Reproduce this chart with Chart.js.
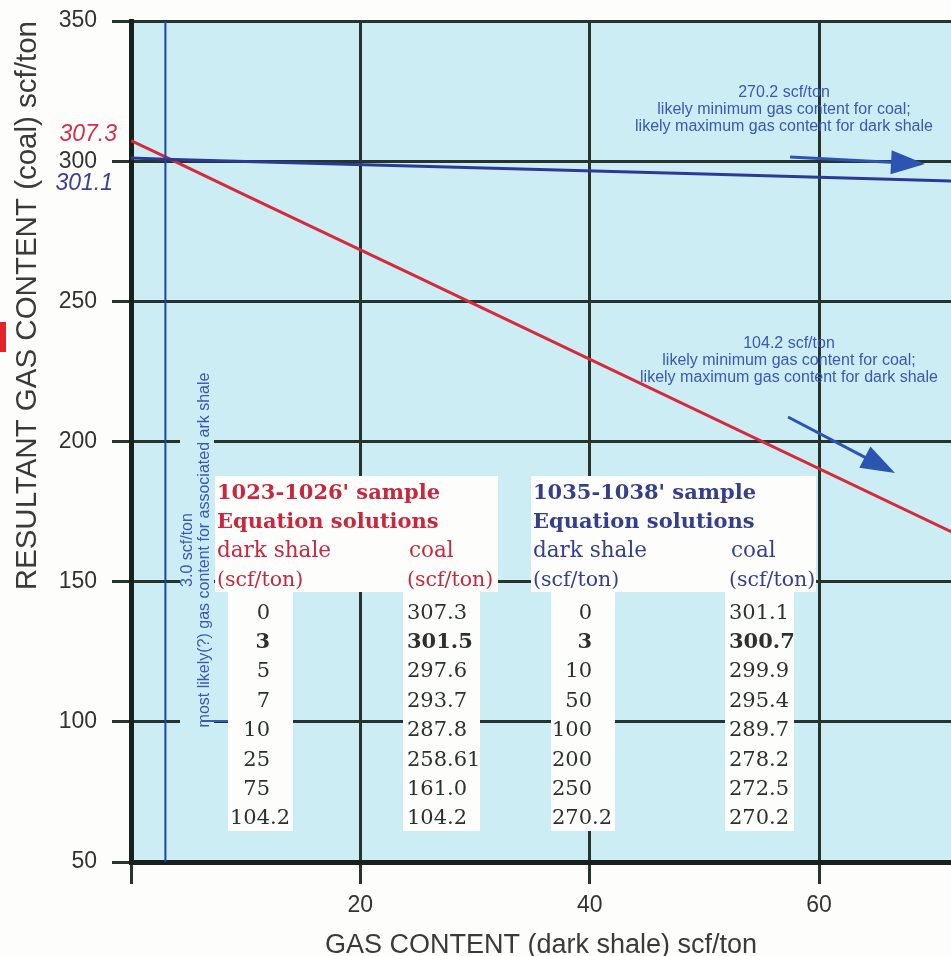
<!DOCTYPE html>
<html>
<head>
<meta charset="utf-8">
<script src="https://cdn.jsdelivr.net/npm/chart.js@4.4.1/dist/chart.umd.min.js"></script>
<style>
  html, body { margin: 0; padding: 0; background: #fdfdfc; }
  #wrap { width: 951px; height: 956px; }
</style>
</head>
<body>
<div id="wrap"><canvas id="chart" width="951" height="956"></canvas></div>
<script>
// 1023-1026' sample, equation solutions (scf/ton)
const shaleA = [0, 3, 5, 7, 10, 25, 75, 104.2];
const coalA = [307.3, 301.5, 297.6, 293.7, 287.8, 258.61, 161.0, 104.2];
// 1035-1038' sample, equation solutions (scf/ton)
const shaleB = [0, 3, 10, 50, 100, 200, 250, 270.2];
const coalB = [301.1, 300.7, 299.9, 295.4, 289.7, 278.2, 272.5, 270.2];
// most likely gas content of the associated dark shale
const likelyShale = 3.0;

const xTicks = [0, 20, 40, 60];
const yTicks = [50, 100, 150, 200, 250, 300, 350];
const xMax = 71.5;

const noteTop = ['270.2 scf/ton', 'likely minimum gas content for coal;', 'likely maximum gas content for dark shale'];
const noteMid = ['104.2 scf/ton', 'likely minimum gas content for coal;', 'likely maximum gas content for dark shale'];
const noteSide = ['3.0 scf/ton', 'most likely(?) gas content for associated ark shale'];

const gridColor = '#27332d';
const axisColor = '#18201c';
const noteBlue = '#3a58b4';
const sans = 'Liberation Sans';
const serif = 'DejaVu Serif';

function toPts(xs, ys) {
  return xs.map((x, i) => ({ x: x, y: ys[i] }));
}
function fmtCoal(v) {
  return Number.isInteger(v) ? v.toFixed(1) : String(v);
}

// fond: page + cyan plot area
const backdrop = {
  id: 'backdrop',
  beforeDraw(chart) {
    const { ctx, chartArea: a } = chart;
    ctx.save();
    ctx.fillStyle = '#fdfdfc';
    ctx.fillRect(0, 0, chart.width, chart.height);
    ctx.fillStyle = '#cdedf5';
    ctx.fillRect(a.left, a.top, a.right - a.left, a.bottom - a.top);
    ctx.restore();
  }
};

function arrow(ctx, x0, y0, x1, y1, color) {
  const ang = Math.atan2(y1 - y0, x1 - x0), L = 34, W = 12;
  const bx = x1 - L * Math.cos(ang), by = y1 - L * Math.sin(ang);
  ctx.strokeStyle = color;
  ctx.fillStyle = color;
  ctx.lineWidth = 3;
  ctx.beginPath(); ctx.moveTo(x0, y0); ctx.lineTo(bx + 4 * Math.cos(ang), by + 4 * Math.sin(ang)); ctx.stroke();
  ctx.beginPath();
  ctx.moveTo(x1, y1);
  ctx.lineTo(bx + W * Math.sin(ang), by - W * Math.cos(ang));
  ctx.lineTo(bx - W * Math.sin(ang), by + W * Math.cos(ang));
  ctx.closePath();
  ctx.fill();
}

function drawTable(ctx, t) {
  const rowTop = 611, rowStep = 29.4;
  ctx.fillStyle = '#fdfdfc';
  ctx.fillRect(t.box[0], 476, t.box[1] - t.box[0], 116);
  ctx.fillRect(t.colShale[0], 592, t.colShale[1] - t.colShale[0], 239);
  ctx.fillRect(t.colCoal[0], 592, t.colCoal[1] - t.colCoal[0], 239);

  ctx.textBaseline = 'alphabetic';
  ctx.textAlign = 'left';
  ctx.fillStyle = t.color;
  ctx.font = 'bold 21px "' + serif + '"';
  ctx.fillText(t.title, t.box[0] + 2, 491 + 7.5);
  ctx.fillText('Equation solutions', t.box[0] + 2, 520 + 7.5);
  ctx.font = '21.5px "' + serif + '"';
  ctx.fillText('dark shale', t.box[0] + 2, 549 + 7.5);
  ctx.fillText('coal', t.xCoal + 2, 549 + 7.5);
  ctx.font = '20.5px "' + serif + '"';
  ctx.fillText('(scf/ton)', t.box[0] + 2, 578 + 7.5);
  ctx.fillText('(scf/ton)', t.xCoal, 578 + 7.5);

  ctx.fillStyle = '#2a322d';
  t.shale.forEach((v, i) => {
    const y = rowTop + i * rowStep + 7.5;
    ctx.font = (i === 1 ? 'bold ' : '') + '21px "' + serif + '"';
    const parts = String(v).split('.');
    ctx.textAlign = 'right';
    ctx.fillText(parts[0], t.xShale, y);
    if (parts[1]) {
      ctx.textAlign = 'left';
      ctx.fillText('.' + parts[1], t.xShale, y);
    }
    ctx.textAlign = 'left';
    ctx.fillText(fmtCoal(t.coal[i]), t.xCoal, y);
  });
}

const overlay = {
  id: 'overlay',
  afterDatasetsDraw(chart) {
    const { ctx } = chart;
    const ys = chart.scales.y;
    ctx.save();

    // valeurs à l'origine, à gauche de l'axe
    ctx.font = 'italic 23px "' + sans + '"';
    ctx.textAlign = 'right';
    ctx.textBaseline = 'middle';
    ctx.fillStyle = '#d2304a';
    ctx.fillText(String(coalA[0]), 117, ys.getPixelForValue(coalA[0]) - 6);
    ctx.fillStyle = '#3d3f96';
    ctx.fillText(String(coalB[0]), 113, ys.getPixelForValue(coalB[0]) + 26);

    // petit repère rouge au bord
    ctx.fillStyle = '#e4232c';
    ctx.fillRect(0, 322, 6, 30);

    // note verticale pour 3.0 scf/ton
    ctx.fillStyle = '#cdedf5';
    ctx.fillRect(180, 365, 34, 368);
    ctx.fillStyle = noteBlue;
    ctx.font = '16px "' + sans + '"';
    ctx.textAlign = 'center';
    ctx.textBaseline = 'middle';
    [[188, noteSide[0]], [205, noteSide[1]]].forEach(([x, txt]) => {
      ctx.save();
      ctx.translate(x, 550);
      ctx.rotate(-Math.PI / 2);
      ctx.fillText(txt, 0, 0);
      ctx.restore();
    });
    ctx.strokeStyle = noteBlue;
    ctx.lineWidth = 2;
    ctx.beginPath(); ctx.moveTo(202, 721); ctx.lineTo(229, 721); ctx.stroke();

    // notes en haut à droite
    ctx.font = '16px "' + sans + '"';
    noteTop.forEach((s, i) => ctx.fillText(s, 784, 93 + i * 17));
    noteMid.forEach((s, i) => ctx.fillText(s, 789, 344 + i * 17));
    arrow(ctx, 790, 157, 925, 164, '#2b55b0');
    arrow(ctx, 788, 417, 895, 473, '#2b55b0');

    drawTable(ctx, {
      title: "1023-1026' sample", color: '#c8283e',
      box: [215, 498], colShale: [228, 293], colCoal: [403, 480],
      xShale: 270, xCoal: 407, shale: shaleA, coal: coalA
    });
    drawTable(ctx, {
      title: "1035-1038' sample", color: '#363f8c',
      box: [531, 816], colShale: [551, 615], colCoal: [725, 794],
      xShale: 592, xCoal: 729, shale: shaleB, coal: coalB
    });
    ctx.restore();
  }
};

new Chart(document.getElementById('chart'), {
  type: 'scatter',
  data: {
    datasets: [
      {
        label: 'likely dark shale',
        data: [{ x: likelyShale, y: yTicks[0] }, { x: likelyShale, y: yTicks[yTicks.length - 1] }],
        borderColor: '#1f43a6', borderWidth: 2
      },
      {
        label: "1035-1038' sample",
        data: toPts(shaleB, coalB),
        borderColor: '#2b3a96', borderWidth: 3
      },
      {
        label: "1023-1026' sample",
        data: toPts(shaleA, coalA),
        borderColor: '#d42a3c', borderWidth: 3
      }
    ].map(d => Object.assign(d, { showLine: true, pointRadius: 0, fill: false, tension: 0 }))
  },
  options: {
    responsive: false,
    animation: false,
    layout: { padding: { top: 21, left: 0, right: 0, bottom: 0 } },
    plugins: { legend: { display: false }, tooltip: { enabled: false } },
    scales: {
      x: {
        type: 'linear', min: 0, max: xMax,
        afterBuildTicks: s => { s.ticks = xTicks.map(v => ({ value: v })); },
        afterFit: s => { s.height = 94; s.paddingLeft = 0; s.paddingRight = 0; },
        grid: { color: gridColor, lineWidth: 3, tickLength: 22, tickColor: gridColor, tickWidth: 3 },
        border: { color: axisColor, width: 5 },
        ticks: {
          padding: 8, color: '#333', autoSkip: false, maxRotation: 0,
          font: { family: sans, size: 23 },
          callback: v => (v === 0 ? '' : v)
        },
        title: {
          display: true, text: 'GAS CONTENT (dark shale) scf/ton', color: '#3a3a3a',
          font: { family: sans, size: 27, lineHeight: 0.8 }, padding: { top: 0, bottom: 0 }
        }
      },
      y: {
        type: 'linear', min: 50, max: 350,
        afterBuildTicks: s => { s.ticks = yTicks.map(v => ({ value: v })); },
        afterFit: s => { s.width = 131; s.paddingTop = 0; s.paddingBottom = 0; },
        grid: { color: gridColor, lineWidth: 3, tickLength: 19, tickColor: gridColor, tickWidth: 3 },
        border: { color: axisColor, width: 5 },
        ticks: { padding: 15, color: '#333', font: { family: sans, size: 23 } },
        title: {
          display: true, align: 'end', text: 'RESULTANT GAS CONTENT (coal) scf/ton', color: '#3a3a3a',
          font: { family: sans, size: 29.5 }, padding: { top: 10, bottom: 0 }
        }
      }
    }
  },
  plugins: [backdrop, overlay]
});
</script>
</body>
</html>
